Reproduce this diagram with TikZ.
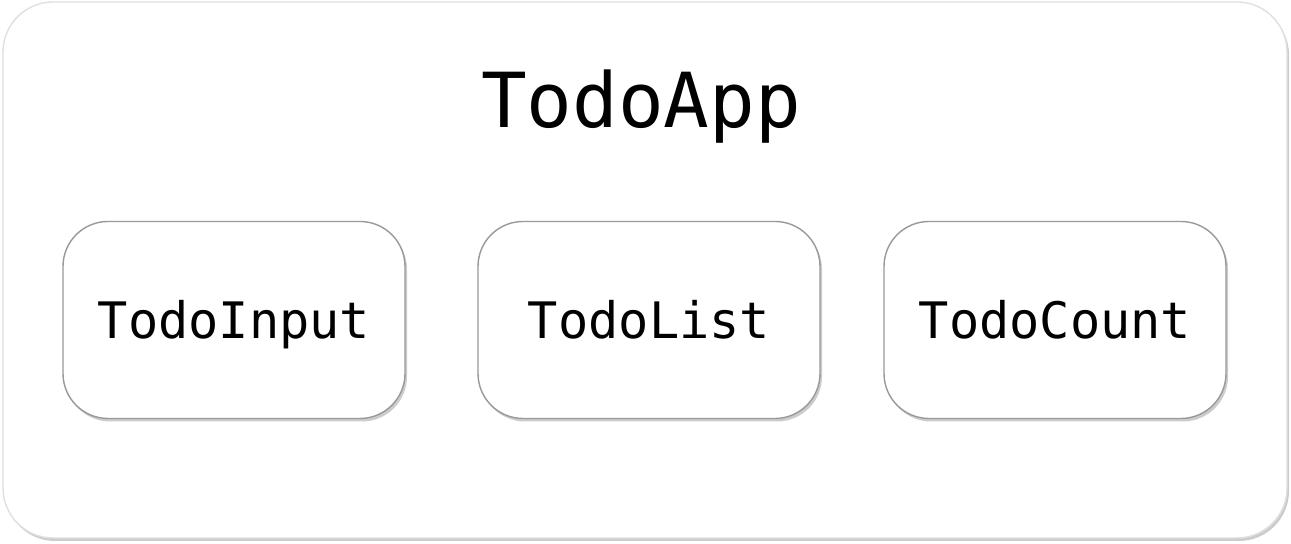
\documentclass[tikz,border=0pt]{standalone}
\usepackage{fontspec}
\setmonofont{DejaVu Sans Mono}
\usetikzlibrary{shadows}

\tikzset{
  appbox/.style={draw=black!12, fill=white, rounded corners=0.5cm,
    minimum width=12.84cm, minimum height=5.36cm,
    drop shadow={shadow xshift=0.02cm, shadow yshift=-0.03cm, opacity=0.4}},
  compbox/.style={draw=black!40, fill=white, rounded corners=0.45cm,
    minimum width=3.42cm, minimum height=1.97cm,
    text height=0.38cm, text depth=0cm,
    font=\ttfamily\fontsize{14.3}{16}\selectfont,
    drop shadow={shadow xshift=0.02cm, shadow yshift=-0.03cm, opacity=0.4}}
}

\begin{document}
\begin{tikzpicture}
      \useasboundingbox (0,0) rectangle (12.91,5.44);
      \node[appbox] (app) at (6.45, 2.74) {};
      \node[font=\ttfamily\fontsize{21.6}{24}\selectfont] (title) at (6.41, 4.37) {TodoApp};
      % child components
      \node[compbox] (input) at (2.34, 2.24) {TodoInput};
      \node[compbox] (list) at (6.49, 2.24) {TodoList};
      \node[compbox] (count) at (10.55, 2.24) {TodoCount};
    \end{tikzpicture}
\end{document}
